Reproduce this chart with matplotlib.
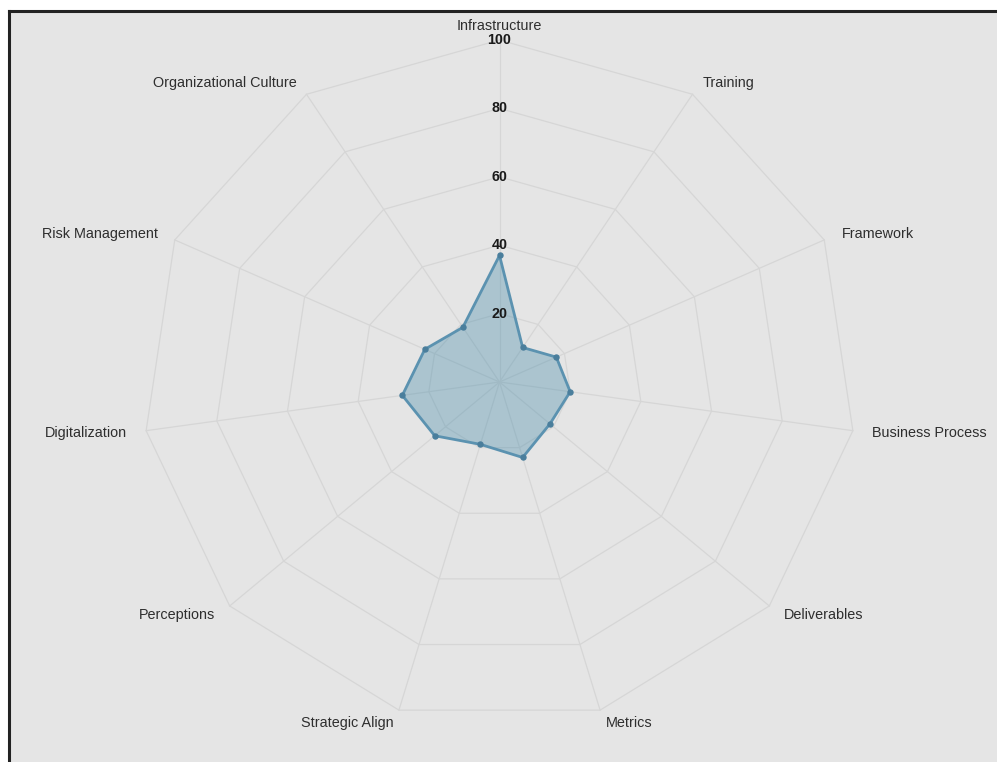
import numpy as np
import matplotlib
matplotlib.use("Agg")
import matplotlib.pyplot as plt

plt.rcParams['font.family'] = ['Liberation Sans', 'DejaVu Sans']

categories = ["Infrastructure", "Training", "Framework", "Business Process",
              "Deliverables", "Metrics", "Strategic Align", "Perceptions",
              "Digitalization", "Risk Management", "Organizational Culture"]
values = [37, 12, 17.5, 20, 18.7, 23, 19, 24, 27.5, 23, 19]
levels = [20, 40, 60, 80, 100]
level_labels = ["20", "40", "60", "80", "100"]
max_value = 100

W, H = 997, 762
fig = plt.figure(figsize=(W / 100, H / 100), dpi=100)
fig.patch.set_facecolor('white')

# axes area (frame): left edge at x=9px, top edge at y=11px
left_px, top_px = 9, 11
ax = fig.add_axes([left_px / W, 0, 1 - left_px / W, 1 - top_px / H])
ax.set_facecolor('#e5e5e5')

# pixel geometry of the radar
cx_px, cy_px = 499.5, 382
sx, sy = 3.57, 3.42  # px per unit
ax.set_xlim((left_px - cx_px) / sx, (W - cx_px) / sx)
ax.set_ylim((cy_px - H) / sy, (cy_px - top_px) / sy)
ax.set_aspect('auto')

for side in ['right', 'bottom']:
    ax.spines[side].set_visible(False)
for side in ['left', 'top']:
    ax.spines[side].set_color('#222222')
    ax.spines[side].set_linewidth(2.2)
ax.set_xticks([])
ax.set_yticks([])

n = len(categories)
ang = np.arange(n) * 2 * np.pi / n
s, c = np.sin(ang), np.cos(ang)

grid_color = '#d6d6d6'
# grid polygons
for lv in levels:
    xs = np.append(lv * s, lv * s[0])
    ys = np.append(lv * c, lv * c[0])
    ax.plot(xs, ys, color=grid_color, lw=0.9, zorder=1)
# spokes
for i in range(n):
    ax.plot([0, max_value * s[i]], [0, max_value * c[i]], color=grid_color, lw=0.9, zorder=1)

# data
v = np.array(values)
xs = np.append(v * s, v[0] * s[0])
ys = np.append(v * c, v[0] * c[0])
ax.fill(xs, ys, color='#3f88a8', alpha=0.35, lw=0, zorder=2)
ax.plot(xs, ys, color='#5b92b0', lw=2, zorder=3)
ax.plot(v * s, v * c, 'o', color='#4a7e9c', ms=3.6, zorder=4)

# level labels
for lv, lab in zip(levels, level_labels):
    ax.text(0, lv, lab, ha='center', va='center', fontsize=10.3,
            fontweight='bold', color='#1a1a1a', zorder=5)

# category labels
for i, cat in enumerate(categories):
    if s[i] > 0.01:
        ha = 'left'
    elif s[i] < -0.01:
        ha = 'right'
    else:
        ha = 'center'
    x = max_value * s[i] + 5.3 * s[i]
    y = max_value * c[i] + 4.0 * c[i]
    ax.text(x, y, cat, ha=ha, va='center', fontsize=10.4, color='#2e2e2e', zorder=5)

fig.savefig('out.png', dpi=100, facecolor=fig.get_facecolor())
